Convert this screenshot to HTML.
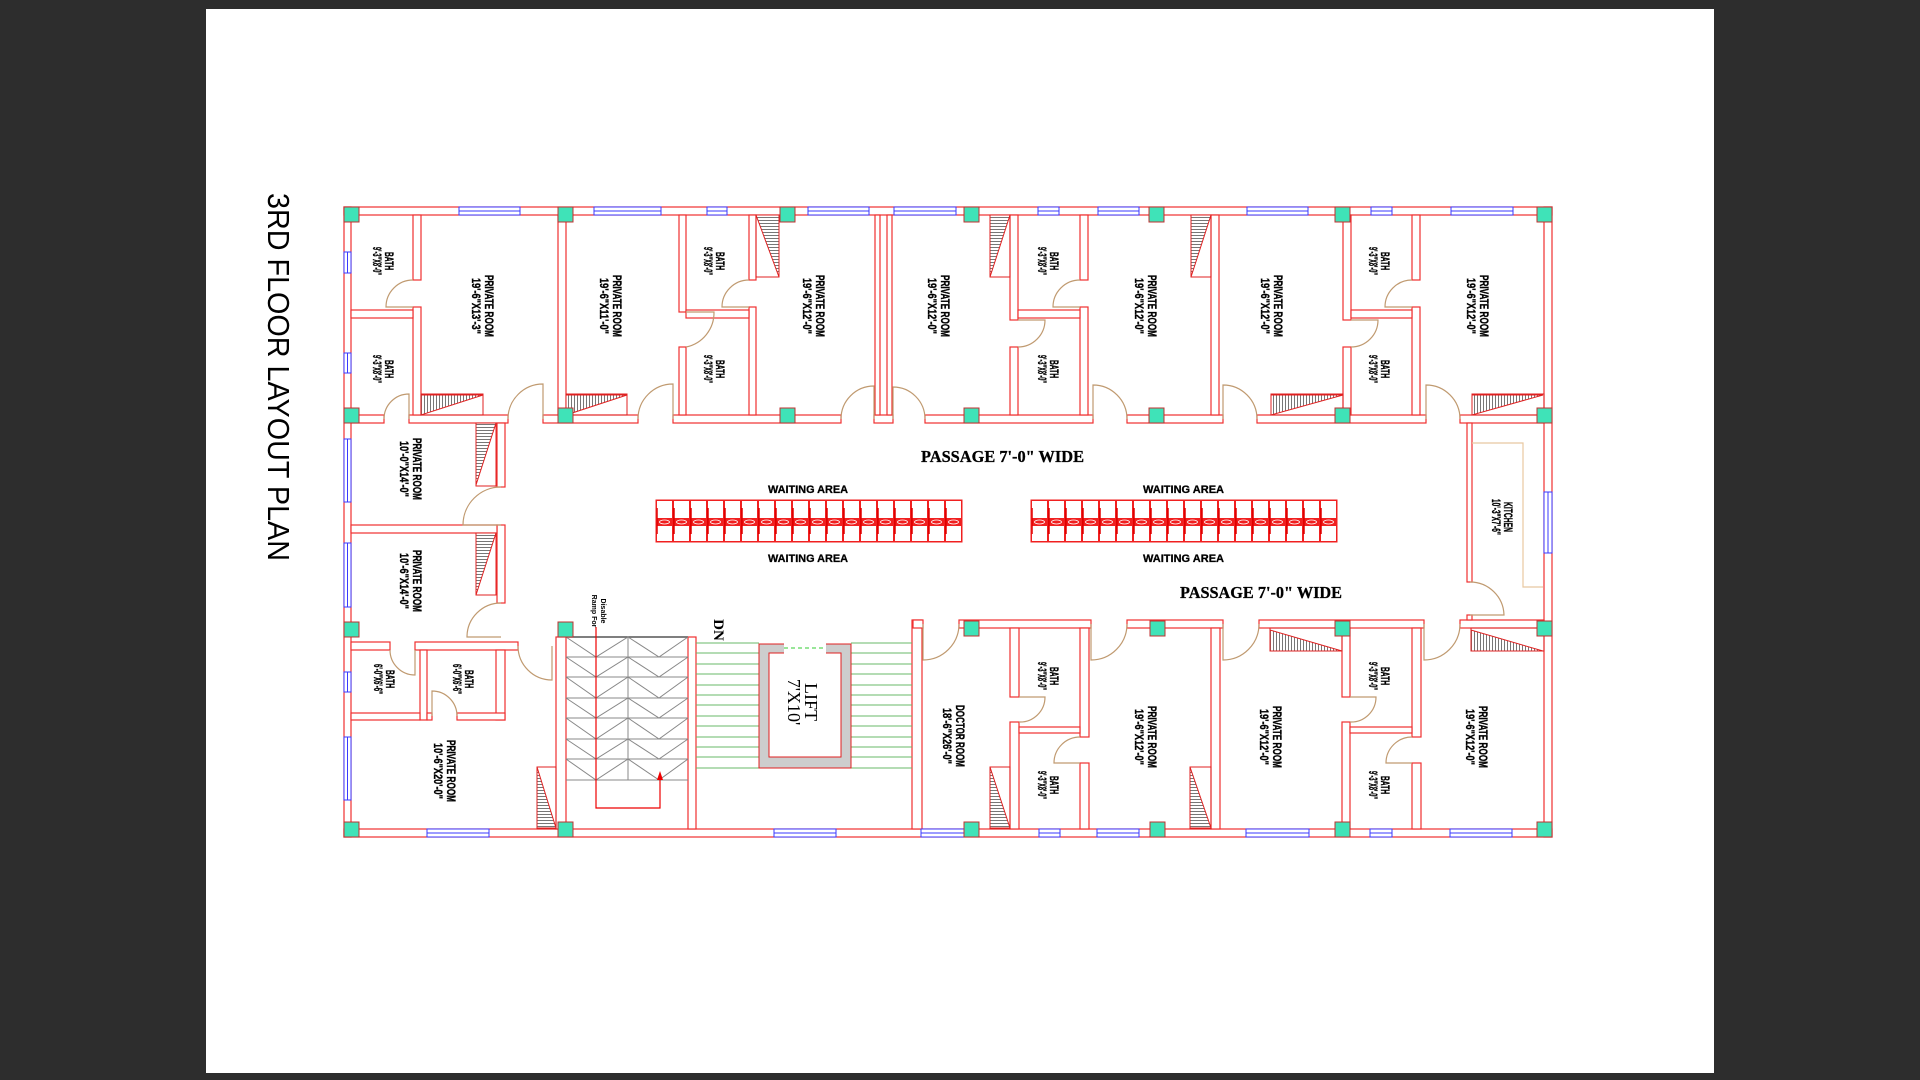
<!DOCTYPE html>
<html><head><meta charset="utf-8"><style>
html,body{margin:0;padding:0;background:#2d2d2d;}
svg{display:block}
.w{fill:#fff;stroke:#f03030;stroke-width:1.2}
.c{fill:#3fe3b8;stroke:#c03030;stroke-width:1}
.win{fill:#fff;stroke:#3a3aff;stroke-width:1}
.d{fill:none;stroke:#c09a70;stroke-width:1.2}
.t{fill:url(#hv);stroke:#e02020;stroke-width:1}
.th{fill:url(#hh);stroke:#e02020;stroke-width:1}
.bx{fill:none;stroke:#e02020;stroke-width:1}
.lb{font-family:"Liberation Sans",sans-serif;font-weight:bold;font-size:12px;fill:#000;stroke:#000;stroke-width:0.35;text-anchor:middle}
</style></head><body>
<svg width="1920" height="1080" viewBox="0 0 1920 1080" xmlns="http://www.w3.org/2000/svg">
<defs>
<pattern id="hv" width="4" height="3" patternUnits="userSpaceOnUse"><rect width="4" height="3" fill="#fff"/><line x1="0" y1="1.5" x2="4" y2="1.5" stroke="#777" stroke-width="1"/></pattern>
<pattern id="hh" width="3" height="4" patternUnits="userSpaceOnUse"><rect width="3" height="4" fill="#fff"/><line x1="1.5" y1="0" x2="1.5" y2="4" stroke="#777" stroke-width="1"/></pattern>
<pattern id="chair" x="656" y="500" width="17" height="42" patternUnits="userSpaceOnUse">
<rect x="0.5" y="0.5" width="16" height="41" fill="#fff" stroke="#f02020" stroke-width="1"/>
<rect x="0" y="18" width="17" height="8" fill="#f02020"/>
<ellipse cx="8.5" cy="22" rx="5" ry="2" fill="none" stroke="#fff" stroke-width="0.8"/>
<line x1="0.5" y1="8" x2="0.5" y2="34" stroke="#e00000" stroke-width="2.5"/>
</pattern>
<pattern id="chair2" x="1031" y="500" width="17" height="42" patternUnits="userSpaceOnUse">
<rect x="0.5" y="0.5" width="16" height="41" fill="#fff" stroke="#f02020" stroke-width="1"/>
<rect x="0" y="18" width="17" height="8" fill="#f02020"/>
<ellipse cx="8.5" cy="22" rx="5" ry="2" fill="none" stroke="#fff" stroke-width="0.8"/>
<line x1="0.5" y1="8" x2="0.5" y2="34" stroke="#e00000" stroke-width="2.5"/>
</pattern>
</defs>
<rect x="206" y="9" width="1508" height="1064" fill="#fff"/>

<text transform="translate(268,377) rotate(90)" font-family="Liberation Sans,sans-serif" font-size="31" text-anchor="middle" textLength="368" lengthAdjust="spacingAndGlyphs" fill="#000">3RD FLOOR LAYOUT PLAN</text>

<rect class="w" x="344" y="207" width="1208" height="8"/>
<rect class="w" x="344" y="829" width="1208" height="8"/>
<rect class="w" x="344" y="207" width="7" height="630"/>
<rect class="w" x="1544" y="207" width="8" height="630"/>

<rect class="w" x="351" y="415" width="33" height="8"/>
<rect class="w" x="409" y="415" width="99" height="8"/>
<rect class="w" x="543" y="415" width="95" height="8"/>
<rect class="w" x="673" y="415" width="168" height="8"/>
<rect class="w" x="874" y="415" width="19" height="8"/>
<rect class="w" x="925" y="415" width="168" height="8"/>
<rect class="w" x="1127" y="415" width="96" height="8"/>
<rect class="w" x="1257" y="415" width="169" height="8"/>
<rect class="w" x="1460" y="415" width="84" height="8"/>

<rect class="w" x="413" y="215" width="8" height="65"/><rect class="w" x="413" y="307" width="8" height="108"/>
<rect class="w" x="558" y="215" width="8" height="200"/>
<rect class="w" x="679" y="215" width="7" height="97"/><rect class="w" x="679" y="347" width="7" height="68"/>
<rect class="w" x="749" y="215" width="7" height="65"/><rect class="w" x="749" y="307" width="7" height="108"/>
<rect class="w" x="875" y="215" width="5" height="200"/><rect class="w" x="887" y="215" width="5" height="200"/>
<rect class="w" x="1010" y="215" width="8" height="105"/><rect class="w" x="1010" y="347" width="8" height="68"/>
<rect class="w" x="1080" y="215" width="8" height="65"/><rect class="w" x="1080" y="307" width="8" height="108"/>
<rect class="w" x="1211" y="215" width="8" height="200"/>
<rect class="w" x="1343" y="215" width="8" height="105"/><rect class="w" x="1343" y="347" width="8" height="68"/>
<rect class="w" x="1412" y="215" width="8" height="65"/><rect class="w" x="1412" y="307" width="8" height="108"/>
<rect class="w" x="351" y="310" width="62" height="8"/>
<rect class="w" x="686" y="310" width="63" height="8"/>
<rect class="w" x="1018" y="310" width="62" height="8"/>
<rect class="w" x="1351" y="310" width="61" height="8"/>

<rect class="w" x="497" y="423" width="8" height="64"/>
<rect class="w" x="497" y="525" width="8" height="78"/>
<rect class="w" x="351" y="525" width="146" height="8"/>
<rect class="w" x="351" y="642" width="39" height="8"/>
<rect class="w" x="415" y="642" width="103" height="8"/>
<rect class="w" x="420" y="650" width="7" height="70"/>
<rect class="w" x="496" y="650" width="9" height="70"/>
<rect class="w" x="351" y="713" width="69" height="7"/>
<rect class="w" x="427" y="713" width="5" height="7"/>
<rect class="w" x="457" y="713" width="48" height="7"/>
<rect class="w" x="556" y="637" width="10" height="192"/>

<rect class="w" x="688" y="637" width="8" height="192"/>
<rect class="w" x="912" y="620" width="10" height="209"/>
<g stroke="#888" stroke-width="1" fill="none">
<line x1="566" y1="637" x2="688" y2="637" stroke="#555" stroke-width="1.5"/>
<line x1="566" y1="657" x2="688" y2="657"/><line x1="566" y1="677" x2="688" y2="677"/>
<line x1="566" y1="698" x2="688" y2="698"/><line x1="566" y1="718" x2="688" y2="718"/>
<line x1="566" y1="739" x2="688" y2="739"/><line x1="566" y1="759" x2="688" y2="759"/>
<line x1="566" y1="780" x2="688" y2="780"/>
<line x1="596" y1="637" x2="596" y2="780"/><line x1="628" y1="637" x2="628" y2="780"/>
<path d="M566 637 L596 657 L628 637 L659 657 L688 637 M566 657 L596 677 L628 657 L659 677 L688 657 M566 677 L596 698 L628 677 L659 698 L688 677 M566 698 L596 718 L628 698 L659 718 L688 698 M566 718 L596 739 L628 718 L659 739 L688 718 M566 739 L596 759 L628 739 L659 759 L688 739 M566 759 L596 780 L628 759 L659 780 L688 759"/>
</g>
<path d="M596 627 L596 808 L660 808 L660 777" fill="none" stroke="#e00" stroke-width="1.2"/>
<path d="M657 780 L660 771 L663 780 Z" fill="#e00"/>
<g stroke="#6ab86a" stroke-width="1">
<line x1="696" y1="643" x2="759" y2="643"/><line x1="851" y1="643" x2="912" y2="643"/>
<line x1="696" y1="653" x2="759" y2="653"/><line x1="851" y1="653" x2="912" y2="653"/>
<line x1="696" y1="664" x2="759" y2="664"/><line x1="851" y1="664" x2="912" y2="664"/>
<line x1="696" y1="674" x2="759" y2="674"/><line x1="851" y1="674" x2="912" y2="674"/>
<line x1="696" y1="685" x2="759" y2="685"/><line x1="851" y1="685" x2="912" y2="685"/>
<line x1="696" y1="695" x2="759" y2="695"/><line x1="851" y1="695" x2="912" y2="695"/>
<line x1="696" y1="705" x2="759" y2="705"/><line x1="851" y1="705" x2="912" y2="705"/>
<line x1="696" y1="716" x2="759" y2="716"/><line x1="851" y1="716" x2="912" y2="716"/>
<line x1="696" y1="726" x2="759" y2="726"/><line x1="851" y1="726" x2="912" y2="726"/>
<line x1="696" y1="737" x2="759" y2="737"/><line x1="851" y1="737" x2="912" y2="737"/>
<line x1="696" y1="747" x2="759" y2="747"/><line x1="851" y1="747" x2="912" y2="747"/>
<line x1="696" y1="757" x2="759" y2="757"/><line x1="851" y1="757" x2="912" y2="757"/>
<line x1="696" y1="768" x2="759" y2="768"/><line x1="851" y1="768" x2="912" y2="768"/>
</g>
<rect x="759" y="644" width="92" height="124" fill="#cdcdcd" stroke="#e02020" stroke-width="1"/>
<rect x="769" y="653" width="72" height="104" fill="#fff" stroke="#e02020" stroke-width="1"/>
<rect x="784" y="643" width="42" height="11" fill="#fff"/>
<line x1="784" y1="648" x2="826" y2="648" stroke="#3c3" stroke-width="1" stroke-dasharray="4,3"/>
<g transform="translate(803,702) rotate(90)" font-family="Liberation Serif,serif" font-size="18" text-anchor="middle" fill="#000">
<text y="-2">LIFT</text><text y="15">7'X10'</text></g>
<text transform="translate(719,630) rotate(90)" font-family="Liberation Serif,serif" font-weight="bold" font-size="15" text-anchor="middle" y="5">DN</text>
<g transform="translate(598,611) rotate(90)" font-family="Liberation Sans,sans-serif" font-weight="bold" font-size="7" text-anchor="middle">
<text y="-3">Disable</text><text y="6">Ramp For</text></g>

<rect class="w" x="913" y="620" width="10" height="8"/>
<rect class="w" x="959" y="620" width="132" height="8"/>
<rect class="w" x="1127" y="620" width="96" height="8"/>
<rect class="w" x="1259" y="620" width="165" height="8"/>
<rect class="w" x="1460" y="620" width="84" height="8"/>
<rect class="w" x="1010" y="628" width="9" height="69"/><rect class="w" x="1010" y="722" width="9" height="107"/>
<rect class="w" x="1080" y="628" width="9" height="109"/><rect class="w" x="1080" y="763" width="9" height="66"/>
<rect class="w" x="1211" y="628" width="9" height="201"/>
<rect class="w" x="1342" y="628" width="8" height="69"/><rect class="w" x="1342" y="722" width="8" height="107"/>
<rect class="w" x="1412" y="628" width="9" height="109"/><rect class="w" x="1412" y="763" width="9" height="66"/>
<rect class="w" x="1019" y="727" width="61" height="6"/>
<rect class="w" x="1350" y="727" width="62" height="6"/>

<rect class="w" x="1467" y="423" width="5" height="159"/>
<rect class="w" x="1467" y="615" width="5" height="5"/>
<path d="M1472 443 L1523 443 L1523 587 L1543 587" fill="none" stroke="#e8c8a0" stroke-width="1.2"/>

<g class="win">
<rect x="459" y="207" width="61" height="8"/><rect x="594" y="207" width="67" height="8"/>
<rect x="707" y="207" width="20" height="8"/><rect x="808" y="207" width="61" height="8"/>
<rect x="894" y="207" width="62" height="8"/><rect x="1038" y="207" width="21" height="8"/>
<rect x="1098" y="207" width="41" height="8"/><rect x="1247" y="207" width="61" height="8"/>
<rect x="1371" y="207" width="21" height="8"/><rect x="1451" y="207" width="62" height="8"/>
<rect x="427" y="829" width="62" height="8"/><rect x="774" y="829" width="62" height="8"/>
<rect x="921" y="829" width="43" height="8"/><rect x="1039" y="829" width="21" height="8"/>
<rect x="1097" y="829" width="42" height="8"/><rect x="1246" y="829" width="63" height="8"/>
<rect x="1370" y="829" width="22" height="8"/><rect x="1450" y="829" width="62" height="8"/>
<rect x="344" y="252" width="7" height="21"/><rect x="344" y="353" width="7" height="20"/>
<rect x="344" y="439" width="7" height="63"/><rect x="344" y="543" width="7" height="64"/>
<rect x="344" y="672" width="7" height="20"/><rect x="344" y="737" width="7" height="63"/>
<rect x="1544" y="492" width="8" height="61"/>
</g>
<g stroke="#3a3aff" stroke-width="1">
<path d="M459 211H520M594 211H661M707 211H727M808 211H869M894 211H956M1038 211H1059M1098 211H1139M1247 211H1308M1371 211H1392M1451 211H1513"/>
<path d="M427 833H489M774 833H836M921 833H964M1039 833H1060M1097 833H1139M1246 833H1309M1370 833H1392M1450 833H1512"/>
<path d="M347.5 252V273M347.5 353V373M347.5 439V502M347.5 543V607M347.5 672V692M347.5 737V800M1548 492V553"/>
</g>

<rect class="bx" x="421" y="394" width="62" height="21"/><polygon class="th" points="421,395 483,395 421,415"/>
<rect class="bx" x="566" y="394" width="61" height="21"/><polygon class="th" points="566,395 627,395 566,415"/>
<rect class="bx" x="756" y="215" width="23" height="62"/><polygon class="t" points="756,215 779,215 779,277"/>
<rect class="bx" x="990" y="215" width="20" height="62"/><polygon class="t" points="990,215 1010,215 990,277"/>
<rect class="bx" x="1191" y="215" width="20" height="62"/><polygon class="t" points="1191,215 1211,215 1191,277"/>
<rect class="bx" x="1271" y="394" width="72" height="21"/><polygon class="th" points="1271,395 1343,395 1271,415"/>
<rect class="bx" x="1472" y="394" width="72" height="21"/><polygon class="th" points="1472,395 1543,395 1472,415"/>
<rect class="bx" x="476" y="423" width="20" height="63"/><polygon class="t" points="476,423 496,423 476,485"/>
<rect class="bx" x="476" y="533" width="20" height="62"/><polygon class="t" points="476,533 496,533 476,595"/>
<rect class="bx" x="537" y="767" width="19" height="62"/><polygon class="t" points="537,767 537,828 556,828"/>
<rect class="bx" x="990" y="767" width="20" height="62"/><polygon class="t" points="990,767 990,828 1010,828"/>
<rect class="bx" x="1190" y="767" width="21" height="62"/><polygon class="t" points="1190,767 1190,828 1211,828"/>
<rect class="bx" x="1270" y="628" width="72" height="23"/><polygon class="th" points="1270,630 1270,651 1342,651"/>
<rect class="bx" x="1471" y="628" width="73" height="23"/><polygon class="th" points="1471,630 1471,651 1543,651"/>

<g class="d">
<path d="M409 419V394A25 25 0 0 0 384 419"/>
<path d="M543 419V384A35 35 0 0 0 508 419"/>
<path d="M673 419V384A35 35 0 0 0 638 419"/>
<path d="M874 419V386A33 33 0 0 0 841 419"/>
<path d="M893 419V387A32 32 0 0 1 925 419"/>
<path d="M1093 419V385A34 34 0 0 1 1127 419"/>
<path d="M1223 419V385A34 34 0 0 1 1257 419"/>
<path d="M1426 419V385A34 34 0 0 1 1460 419"/>
<path d="M923 624V660A36 36 0 0 0 959 624"/>
<path d="M1091 624V660A36 36 0 0 0 1127 624"/>
<path d="M1223 624V660A36 36 0 0 0 1259 624"/>
<path d="M1424 624V660A36 36 0 0 0 1460 624"/>
<path d="M501 525H463A38 38 0 0 1 501 487"/>
<path d="M501 637H467A34 34 0 0 1 501 603"/>
<path d="M552 646V680A34 34 0 0 1 518 646"/>
<path d="M413 307H386A27 27 0 0 1 413 280"/>
<path d="M686 312H714A35 35 0 0 1 686 347"/>
<path d="M749 307H722A27 27 0 0 1 749 280"/>
<path d="M1018 320H1045A27 27 0 0 1 1018 347"/>
<path d="M1080 307H1053A27 27 0 0 1 1080 280"/>
<path d="M1351 320H1378A27 27 0 0 1 1351 347"/>
<path d="M1412 307H1385A27 27 0 0 1 1412 280"/>
<path d="M1019 697H1045A25 25 0 0 1 1019 722"/>
<path d="M1080 763H1054A26 26 0 0 1 1080 737"/>
<path d="M1350 697H1376A25 25 0 0 1 1350 722"/>
<path d="M1412 763H1386A26 26 0 0 1 1412 737"/>
<path d="M415 650V675A25 25 0 0 1 390 650"/>
<path d="M432 716V691A25 25 0 0 1 457 716"/>
<path d="M1470 615H1504A34 34 0 0 0 1470 582"/>
</g>

<g class="c">
<rect x="344" y="207" width="15" height="15"/><rect x="558" y="207" width="15" height="15"/><rect x="780" y="207" width="15" height="15"/><rect x="964" y="207" width="15" height="15"/><rect x="1149" y="207" width="15" height="15"/><rect x="1335" y="207" width="15" height="15"/><rect x="1537" y="207" width="15" height="15"/>
<rect x="344" y="408" width="15" height="15"/><rect x="558" y="408" width="15" height="15"/><rect x="780" y="408" width="15" height="15"/><rect x="964" y="408" width="15" height="15"/><rect x="1149" y="408" width="15" height="15"/><rect x="1335" y="408" width="15" height="15"/><rect x="1537" y="408" width="15" height="15"/>
<rect x="344" y="622" width="15" height="15"/><rect x="558" y="622" width="15" height="15"/><rect x="964" y="621" width="15" height="15"/><rect x="1150" y="621" width="15" height="15"/><rect x="1335" y="621" width="15" height="15"/><rect x="1537" y="621" width="15" height="15"/>
<rect x="344" y="822" width="15" height="15"/><rect x="558" y="822" width="15" height="15"/><rect x="964" y="822" width="15" height="15"/><rect x="1150" y="822" width="15" height="15"/><rect x="1335" y="822" width="15" height="15"/><rect x="1537" y="822" width="15" height="15"/>
</g>

<rect x="656" y="500" width="306" height="42" fill="url(#chair)" stroke="#f02020" stroke-width="1"/>
<rect x="1031" y="500" width="306" height="42" fill="url(#chair2)" stroke="#f02020" stroke-width="1"/>

<g font-family="Liberation Serif,serif" font-weight="bold" font-size="17" fill="#000" stroke="#000" stroke-width="0.3">
<text x="921" y="462" textLength="163" lengthAdjust="spacingAndGlyphs">PASSAGE 7'-0" WIDE</text>
<text x="1180" y="598" textLength="162" lengthAdjust="spacingAndGlyphs">PASSAGE 7'-0" WIDE</text>
</g>
<g font-family="Liberation Sans,sans-serif" font-weight="bold" font-size="11" fill="#000" stroke="#000" stroke-width="0.3">
<text x="768" y="493" textLength="80" lengthAdjust="spacingAndGlyphs">WAITING AREA</text>
<text x="768" y="562" textLength="80" lengthAdjust="spacingAndGlyphs">WAITING AREA</text>
<text x="1143" y="493" textLength="81" lengthAdjust="spacingAndGlyphs">WAITING AREA</text>
<text x="1143" y="562" textLength="81" lengthAdjust="spacingAndGlyphs">WAITING AREA</text>
</g>

<g class="lb">
<g transform="translate(384,261) rotate(90)"><text y="-1" textLength="18" lengthAdjust="spacingAndGlyphs">BATH</text><text y="11" textLength="28" lengthAdjust="spacingAndGlyphs">9'-3"X8'-0"</text></g>
<g transform="translate(384,369) rotate(90)"><text y="-1" textLength="18" lengthAdjust="spacingAndGlyphs">BATH</text><text y="11" textLength="28" lengthAdjust="spacingAndGlyphs">9'-3"X8'-0"</text></g>
<g transform="translate(484,306) rotate(90)"><text y="-1" textLength="62" lengthAdjust="spacingAndGlyphs">PRIVATE ROOM</text><text y="12" textLength="56" lengthAdjust="spacingAndGlyphs">19'-6"X13'-3"</text></g>
<g transform="translate(612,306) rotate(90)"><text y="-1" textLength="62" lengthAdjust="spacingAndGlyphs">PRIVATE ROOM</text><text y="12" textLength="56" lengthAdjust="spacingAndGlyphs">19'-6"X11'-0"</text></g>
<g transform="translate(715,261) rotate(90)"><text y="-1" textLength="18" lengthAdjust="spacingAndGlyphs">BATH</text><text y="11" textLength="28" lengthAdjust="spacingAndGlyphs">9'-3"X8'-0"</text></g>
<g transform="translate(715,369) rotate(90)"><text y="-1" textLength="18" lengthAdjust="spacingAndGlyphs">BATH</text><text y="11" textLength="28" lengthAdjust="spacingAndGlyphs">9'-3"X8'-0"</text></g>
<g transform="translate(815,306) rotate(90)"><text y="-1" textLength="62" lengthAdjust="spacingAndGlyphs">PRIVATE ROOM</text><text y="12" textLength="56" lengthAdjust="spacingAndGlyphs">19'-6"X12'-0"</text></g>
<g transform="translate(940,306) rotate(90)"><text y="-1" textLength="62" lengthAdjust="spacingAndGlyphs">PRIVATE ROOM</text><text y="12" textLength="56" lengthAdjust="spacingAndGlyphs">19'-6"X12'-0"</text></g>
<g transform="translate(1049,261) rotate(90)"><text y="-1" textLength="18" lengthAdjust="spacingAndGlyphs">BATH</text><text y="11" textLength="28" lengthAdjust="spacingAndGlyphs">9'-3"X8'-0"</text></g>
<g transform="translate(1049,369) rotate(90)"><text y="-1" textLength="18" lengthAdjust="spacingAndGlyphs">BATH</text><text y="11" textLength="28" lengthAdjust="spacingAndGlyphs">9'-3"X8'-0"</text></g>
<g transform="translate(1147,306) rotate(90)"><text y="-1" textLength="62" lengthAdjust="spacingAndGlyphs">PRIVATE ROOM</text><text y="12" textLength="56" lengthAdjust="spacingAndGlyphs">19'-6"X12'-0"</text></g>
<g transform="translate(1273,306) rotate(90)"><text y="-1" textLength="62" lengthAdjust="spacingAndGlyphs">PRIVATE ROOM</text><text y="12" textLength="56" lengthAdjust="spacingAndGlyphs">19'-6"X12'-0"</text></g>
<g transform="translate(1380,261) rotate(90)"><text y="-1" textLength="18" lengthAdjust="spacingAndGlyphs">BATH</text><text y="11" textLength="28" lengthAdjust="spacingAndGlyphs">9'-3"X8'-0"</text></g>
<g transform="translate(1380,369) rotate(90)"><text y="-1" textLength="18" lengthAdjust="spacingAndGlyphs">BATH</text><text y="11" textLength="28" lengthAdjust="spacingAndGlyphs">9'-3"X8'-0"</text></g>
<g transform="translate(1479,306) rotate(90)"><text y="-1" textLength="62" lengthAdjust="spacingAndGlyphs">PRIVATE ROOM</text><text y="12" textLength="56" lengthAdjust="spacingAndGlyphs">19'-6"X12'-0"</text></g>

<g transform="translate(412,469) rotate(90)"><text y="-1" textLength="62" lengthAdjust="spacingAndGlyphs">PRIVATE ROOM</text><text y="12" textLength="56" lengthAdjust="spacingAndGlyphs">10'-0"X14'-0"</text></g>
<g transform="translate(412,581) rotate(90)"><text y="-1" textLength="62" lengthAdjust="spacingAndGlyphs">PRIVATE ROOM</text><text y="12" textLength="56" lengthAdjust="spacingAndGlyphs">10'-6"X14'-0"</text></g>
<g transform="translate(385,679) rotate(90)"><text y="-1" textLength="18" lengthAdjust="spacingAndGlyphs">BATH</text><text y="11" textLength="30" lengthAdjust="spacingAndGlyphs">6'-0"X6'-6"</text></g>
<g transform="translate(464,679) rotate(90)"><text y="-1" textLength="18" lengthAdjust="spacingAndGlyphs">BATH</text><text y="11" textLength="30" lengthAdjust="spacingAndGlyphs">6'-0"X6'-6"</text></g>
<g transform="translate(446,771) rotate(90)"><text y="-1" textLength="62" lengthAdjust="spacingAndGlyphs">PRIVATE ROOM</text><text y="12" textLength="56" lengthAdjust="spacingAndGlyphs">10'-6"X20'-0"</text></g>

<g transform="translate(955,736) rotate(90)"><text y="-1" textLength="62" lengthAdjust="spacingAndGlyphs">DOCTOR ROOM</text><text y="12" textLength="56" lengthAdjust="spacingAndGlyphs">18'-6"X26'-0"</text></g>
<g transform="translate(1049,676) rotate(90)"><text y="-1" textLength="18" lengthAdjust="spacingAndGlyphs">BATH</text><text y="11" textLength="28" lengthAdjust="spacingAndGlyphs">9'-3"X8'-0"</text></g>
<g transform="translate(1049,785) rotate(90)"><text y="-1" textLength="18" lengthAdjust="spacingAndGlyphs">BATH</text><text y="11" textLength="28" lengthAdjust="spacingAndGlyphs">9'-3"X8'-0"</text></g>
<g transform="translate(1147,737) rotate(90)"><text y="-1" textLength="62" lengthAdjust="spacingAndGlyphs">PRIVATE ROOM</text><text y="12" textLength="56" lengthAdjust="spacingAndGlyphs">19'-6"X12'-0"</text></g>
<g transform="translate(1272,737) rotate(90)"><text y="-1" textLength="62" lengthAdjust="spacingAndGlyphs">PRIVATE ROOM</text><text y="12" textLength="56" lengthAdjust="spacingAndGlyphs">19'-6"X12'-0"</text></g>
<g transform="translate(1380,676) rotate(90)"><text y="-1" textLength="18" lengthAdjust="spacingAndGlyphs">BATH</text><text y="11" textLength="28" lengthAdjust="spacingAndGlyphs">9'-3"X8'-0"</text></g>
<g transform="translate(1380,785) rotate(90)"><text y="-1" textLength="18" lengthAdjust="spacingAndGlyphs">BATH</text><text y="11" textLength="28" lengthAdjust="spacingAndGlyphs">9'-3"X8'-0"</text></g>
<g transform="translate(1478,737) rotate(90)"><text y="-1" textLength="62" lengthAdjust="spacingAndGlyphs">PRIVATE ROOM</text><text y="12" textLength="56" lengthAdjust="spacingAndGlyphs">19'-6"X12'-0"</text></g>
<g transform="translate(1503,517) rotate(90)"><text y="-1" textLength="30" lengthAdjust="spacingAndGlyphs">KITCHEN</text><text y="11" textLength="36" lengthAdjust="spacingAndGlyphs">10'-3"X7'-6"</text></g>
</g>
</svg>
</body></html>
